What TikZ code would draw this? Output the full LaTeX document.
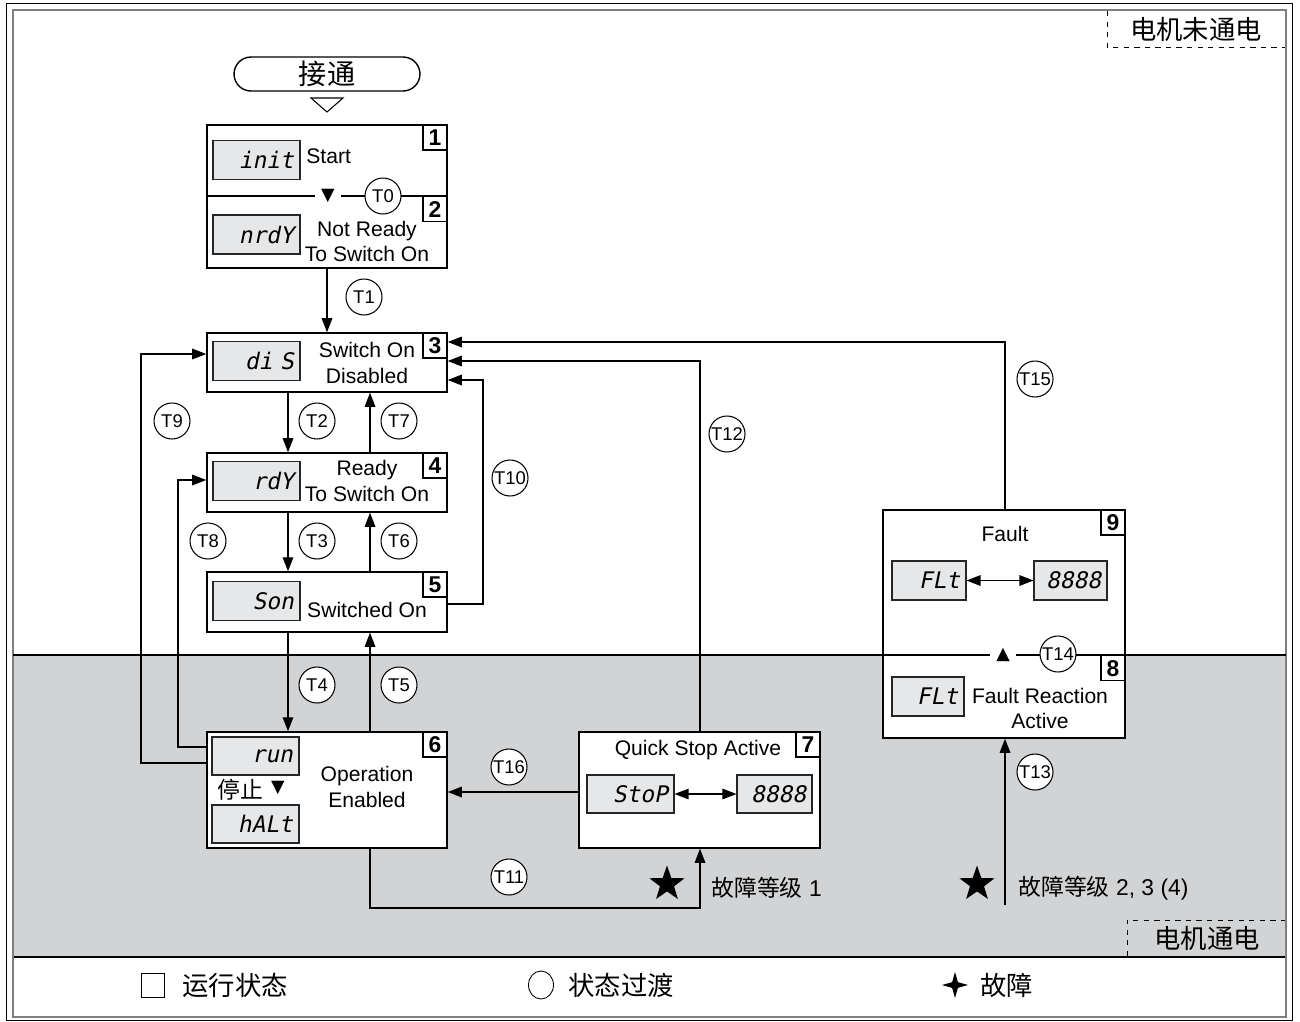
\documentclass[tikz,border=0pt]{standalone}
\usepackage{fontspec}
\setmainfont{Liberation Sans}
\newfontfamily\cjk{Noto Sans CJK SC}
\newfontfamily\dispfont{DejaVu Sans Mono}[FakeSlant=0.2]
\newfontfamily\symfont{DejaVu Sans}
\usetikzlibrary{arrows.meta,shapes.geometric,fit,calc}
\definecolor{bandgray}{HTML}{D1D3D4}
\definecolor{dispgray}{HTML}{E6E7E8}
\definecolor{framegray}{HTML}{7F7F7F}
\begin{document}
\begin{tikzpicture}[x=0.02cm,y=-0.02cm,
  stbox/.style={draw, line width=0.8pt, fill=white, inner sep=0pt},
  numbox/.style={draw, line width=0.8pt, fill=white, minimum width=0.48cm, minimum height=0.5cm, inner sep=0pt, font=\fontsize{13}{13}\selectfont\bfseries, anchor=north east},
  disp/.style={draw=black!85, line width=0.6pt, fill=dispgray, minimum height=0.78cm, text width=1.5cm, align=right, inner xsep=0.12cm, inner ysep=0pt, font=\dispfont\fontsize{13}{13}\selectfont},
  trans/.style={circle, draw, line width=0.6pt, fill=white, minimum size=0.72cm, inner sep=0pt, font=\fontsize{10.5}{10.5}\selectfont},
  lbl/.style={font=\fontsize{12}{14.6}\selectfont, align=center, inner sep=0pt},
  conn/.style={line width=0.75pt},
  arr/.style={line width=0.75pt, -{Triangle[length=8pt,width=6pt]}},
  dblarr/.style={line width=0.75pt, {Triangle[length=8pt,width=6pt]}-{Triangle[length=8pt,width=6pt]}},
  bigstar/.style={star, star points=5, star point ratio=2.5, fill=black, minimum size=0.74cm, inner sep=0pt},
  cjklbl/.style={font=\cjk\fontsize{15}{15}\selectfont, inner sep=0pt},
  tri/.style={font=\symfont\fontsize{10}{10}\selectfont, fill=white, inner xsep=0.12cm, inner ysep=0pt}
]
\useasboundingbox (0,0) rectangle (1300,1021);
% frames
\draw[line width=0.5pt] (6,3) rectangle (1292,1020);
\fill[bandgray] (13,655) rectangle (1286,957);
\draw[line width=0.8pt] (13,957) -- (1286,957);
\draw[framegray, line width=1.3pt] (13,10) rectangle (1286,1017);
% zone boxes
\draw[dashed, line width=0.5pt] (1107,11) -- (1107,47) -- (1285,47);
\node[cjklbl] (off) at (1196,29) {电机未通电};
\draw[dashed, line width=0.5pt] (1127,956) -- (1127,920) -- (1285,920);
\node[cjklbl] (on) at (1207,938) {电机通电};

% start
\node[draw, line width=0.8pt, rounded corners=0.34cm, minimum width=3.72cm, minimum height=0.68cm, font=\cjk\fontsize{16}{16}\selectfont, inner sep=0pt] (start) at (327,74) {接通};
\draw[line width=0.6pt] (311,98) -- (343,98) -- (327,112) -- cycle;

% row coordinates
\coordinate (r196) at (0,196);
\coordinate (cA) at (288,0);
\coordinate (cB) at (370,0);
\coordinate (c141) at (141,0);
\coordinate (c178) at (178,0);
\coordinate (c483) at (483,0);
\coordinate (c700) at (700,0);
\coordinate (c1005) at (1005,0);
\coordinate (r342) at (0,342);
\coordinate (r354) at (0,354);
\coordinate (r361) at (0,361);
\coordinate (r380) at (0,380);
\coordinate (r480) at (0,480);
\coordinate (r604) at (0,604);
\coordinate (r747) at (0,747);
\coordinate (r763) at (0,763);
\coordinate (r792) at (0,792);
\coordinate (r908) at (0,908);
\coordinate (r655) at (0,655);

% box 1/2
\node[stbox, fit={(207,125)(447,268)}] (b12) {};
\node[numbox] (n1) at (b12.north east) {1};
\draw[conn] (b12.west |- r196) -- (b12.east |- r196);
\node[numbox] (n2) at (b12.east |- r196) {2};
\node[disp] (d1) at (256.5,160) {init};
\node[lbl, anchor=west] (t1) at (306,156) {Start};
\node[disp] (d2) at (256.5,234.5) {nrdY};
\node[lbl] (t2) at (367,241.5) {Not Ready\\To Switch On};
\node[tri] (tr0) at (328,196) {▼};
\node[trans] (T0) at (383,196) {T0};

% box 3
\node[stbox, fit={(207,333)(447,392)}] (b3) {};
\node[numbox] at (b3.north east) {3};
\node[disp] (d3) at (256.5,361) {di S};
\node[lbl] (t3) at (367,363) {Switch On\\Disabled};

% box 4
\node[stbox, fit={(207,453)(447,512)}] (b4) {};
\node[numbox] at (b4.north east) {4};
\node[disp] (d4) at (256.5,481) {rdY};
\node[lbl] (t4) at (367,481) {Ready\\To Switch On};

% box 5
\node[stbox, fit={(207,572)(447,632)}] (b5) {};
\node[numbox] at (b5.north east) {5};
\node[disp] (d5) at (256.5,601) {Son};
\node[lbl] (t5) at (367,610) {Switched On};

% box 6
\node[stbox, fit={(207,732)(447,848)}] (b6) {};
\node[numbox] at (b6.north east) {6};
\node[disp, minimum height=0.76cm] (d6a) at (255.5,756) {run};
\node[disp, minimum height=0.76cm] (d6b) at (255.5,824) {hALt};
\node[font=\cjk\fontsize{13}{13}\selectfont, inner sep=0pt, anchor=west] (halt) at (217,790) {停止};
\node[font=\symfont\fontsize{10}{10}\selectfont, inner sep=0pt] (tr6) at (278,788) {▼};
\node[lbl] (t6) at (367,787) {Operation\\Enabled};

% box 7
\node[stbox, fit={(579,732)(820,848)}] (b7) {};
\node[numbox] at (b7.north east) {7};
\node[lbl] (t7) at (698,750) {Quick Stop Active};
\node[disp, minimum height=0.76cm] (d7a) at (630.5,794) {StoP};
\node[disp, minimum height=0.76cm, text width=1.26cm] (d7b) at (774.5,794) {8888};
\draw[dblarr] (d7a.east) -- (d7b.west);

% box 9/8
\node[stbox, fit={(883,510)(1125,738)}] (b89) {};
\node[numbox] at (b89.north east) {9};
\node[lbl] (t9) at (1005,534) {Fault};
\node[disp, text width=1.24cm] (d9a) at (929,580.5) {FLt};
\node[disp, text width=1.22cm] (d9b) at (1070.5,580.5) {8888};
\draw[dblarr] (d9a.east) -- (d9b.west);
\node[disp, text width=1.2cm] (d8) at (928,696.5) {FLt};
\node[lbl] (t8) at (1040,708.5) {Fault Reaction\\Active};

% band top line
\draw[line width=0.8pt] (13,655) -- (1286,655);
\node[numbox] at (b89.east |- r655) {8};
\node[tri] (tr14) at (1003,655) {▲};
\node[trans] (T14) at (1058,654) {T14};

% transitions
\draw[arr] (b12.south) -- (b3.north);
\node[trans] at (364,297) {T1};
\draw[arr] (b3.south -| cA) -- (b4.north -| cA);
\node[trans] at (317,421) {T2};
\draw[arr] (b4.north -| cB) -- (b3.south -| cB);
\node[trans] at (399,421) {T7};
\draw[arr] (b4.south -| cA) -- (b5.north -| cA);
\node[trans] at (317,541) {T3};
\draw[arr] (b5.north -| cB) -- (b4.south -| cB);
\node[trans] at (399,541) {T6};
\draw[arr] (b5.south -| cA) -- (b6.north -| cA);
\node[trans] at (317,685) {T4};
\draw[arr] (b6.north -| cB) -- (b5.south -| cB);
\node[trans] at (399,685) {T5};

\draw[arr] (b6.west |- r763) -- (c141 |- r763) -- (c141 |- r354) -- (b3.west |- r354);
\node[trans] at (172,421) {T9};
\draw[arr] (b6.west |- r747) -- (c178 |- r747) -- (c178 |- r480) -- (b4.west |- r480);
\node[trans] at (208,541) {T8};
\draw[arr] (b5.east |- r604) -- (c483 |- r604) -- (c483 |- r380) -- (b3.east |- r380);
\node[trans] at (510,478) {T10};
\draw[arr] (b7.north -| c700) -- (c700 |- r361) -- (b3.east |- r361);
\node[trans] at (727,434) {T12};
\draw[arr] (b89.north -| c1005) -- (c1005 |- r342) -- (b3.east |- r342);
\node[trans] at (1035,379) {T15};
\draw[arr] (b7.west |- r792) -- (b6.east |- r792);
\node[trans] at (509,767) {T16};
\draw[arr] (b6.south -| cB) -- (cB |- r908) -- (c700 |- r908) -- (b7.south -| c700);
\node[trans] at (509,877) {T11};
\coordinate (f23) at (1005,905);
\draw[arr] (f23) -- (b89.south -| f23);
\node[trans] at (1035,772) {T13};

% faults
\node[bigstar] (s1) at (667,884) {};
\node[anchor=west, inner sep=0pt, font=\fontsize{13}{13}\selectfont] (fc1) at (711,888) {{\cjk 故障等级} 1};
\node[bigstar] (s2) at (977,884) {};
\node[anchor=west, inner sep=0pt, font=\fontsize{13}{13}\selectfont] (fc2) at (1018,888) {{\cjk 故障等级} 2, 3 (4)};

% legend
\node[draw, line width=0.5pt, minimum width=0.46cm, minimum height=0.48cm, inner sep=0pt] (lg1) at (152.5,985) {};
\node[cjklbl, anchor=west] at (182,985) {运行状态};
\node[ellipse, draw, line width=0.5pt, minimum width=0.5cm, minimum height=0.56cm, inner sep=0pt] (lg2) at (541,985) {};
\node[cjklbl, anchor=west] at (568,985) {状态过渡};
\node[star, star points=4, star point ratio=3.2, fill=black, minimum size=0.52cm, inner sep=0pt] (lg3) at (955,985) {};
\node[cjklbl, anchor=west] at (980,985) {故障};
\end{tikzpicture}
\end{document}
